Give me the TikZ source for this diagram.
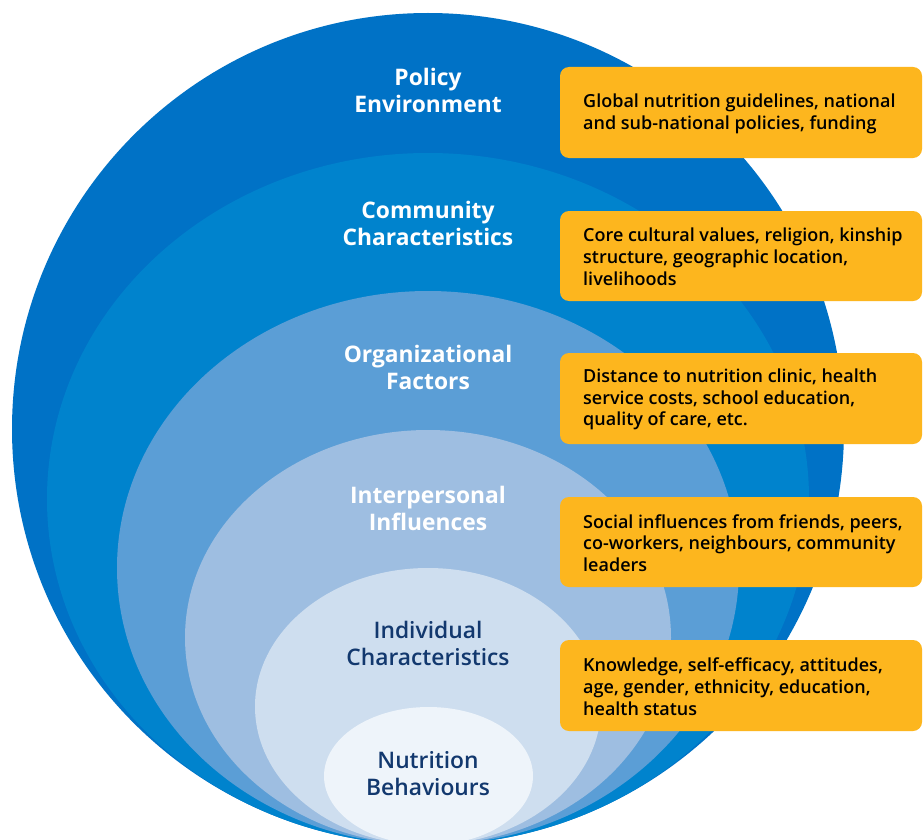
\documentclass[tikz,border=0pt]{standalone}
\usepackage{fontspec}
\setmainfont{Open Sans}
\IfFontExistsTF{Open Sans SemiBold}{\newfontfamily\semifont{Open Sans SemiBold}}{%
  \IfFontExistsTF{Open Sans Semibold}{\newfontfamily\semifont{Open Sans Semibold}}{%
    \newfontfamily\semifont{Open Sans}[FakeBold=0.6]}}
\usetikzlibrary{shapes.geometric}
\definecolor{cOuter}{HTML}{0072C6}
\definecolor{cComm}{HTML}{0083CD}
\definecolor{cOrg}{HTML}{5B9ED6}
\definecolor{cInter}{HTML}{9EBEE1}
\definecolor{cIndiv}{HTML}{CEDEEF}
\definecolor{cNutr}{HTML}{EEF4FA}
\definecolor{cOrange}{HTML}{FDB61E}
\definecolor{cNavy}{HTML}{12386E}
\tikzset{
  layer/.style={ellipse, inner sep=0pt, draw=none},
  title/.style={align=center, font=\fontsize{22.8}{27}\selectfont\bfseries, text=white, inner sep=0pt},
  titledark/.style={align=center, font=\fontsize{22.8}{27}\selectfont\semifont, text=cNavy, inner sep=0pt},
  infobox/.style={fill=cOrange, rounded corners=9pt, inner sep=0pt},
  infotext/.style={align=left, anchor=west, font=\fontsize{18}{21.8}\selectfont\semifont, text=black, inner sep=0pt},
}
\begin{document}
\begin{tikzpicture}[x=1pt,y=-1pt]
\clip (0,0) rectangle (923,840);
\fill[white] (0,0) rectangle (923,840);
% nested layers
\node[layer, fill=cOuter, minimum width=832pt, minimum height=832pt] (l1) at (428,429) {};
\node[layer, fill=cComm, minimum width=762pt, minimum height=692pt] (l2) at (428,499) {};
\node[layer, fill=cOrg, minimum width=622pt, minimum height=554pt] (l3) at (428,568) {};
\node[layer, fill=cInter, minimum width=486pt, minimum height=415pt] (l4) at (428,637.5) {};
\node[layer, fill=cIndiv, minimum width=346pt, minimum height=277pt] (l5) at (428,706.5) {};
\node[layer, fill=cNutr, minimum width=209pt, minimum height=138pt] (l6) at (428.5,776) {};
% titles
\node[title] (t1) at (428,90) {Policy\\Environment};
\node[title] (t2) at (428,223.5) {Community\\Characteristics};
\node[title] (t3) at (428,367.5) {Organizational\\Factors};
\node[title] (t4) at (428,508) {Interpersonal\\Influences};
\node[titledark] (t5) at (428,643.5) {Individual\\Characteristics};
\node[titledark] (t6) at (428,773.5) {Nutrition\\Behaviours};
% boxes
\fill[infobox] (560,67) rectangle (922,158);
\fill[infobox] (560,211) rectangle (922,301);
\fill[infobox] (560,353) rectangle (922,444);
\fill[infobox] (560,497) rectangle (922,587);
\fill[infobox] (560,640) rectangle (922,731);
\node[infotext] (b1) at (583,113.5) {Global nutrition guidelines, national\\and sub-national policies, funding};
\node[infotext] (b2) at (583,257) {Core cultural values, religion, kinship\\structure, geographic location,\\livelihoods};
\node[infotext] (b3) at (583,399.5) {Distance to nutrition clinic, health\\service costs, school education,\\quality of care, etc.};
\node[infotext] (b4) at (583,543) {Social influences from friends, peers,\\co-workers, neighbours, community\\leaders};
\node[infotext] (b5) at (583,686.5) {Knowledge, self-efficacy, attitudes,\\age, gender, ethnicity, education,\\health status};
\end{tikzpicture}
\end{document}
